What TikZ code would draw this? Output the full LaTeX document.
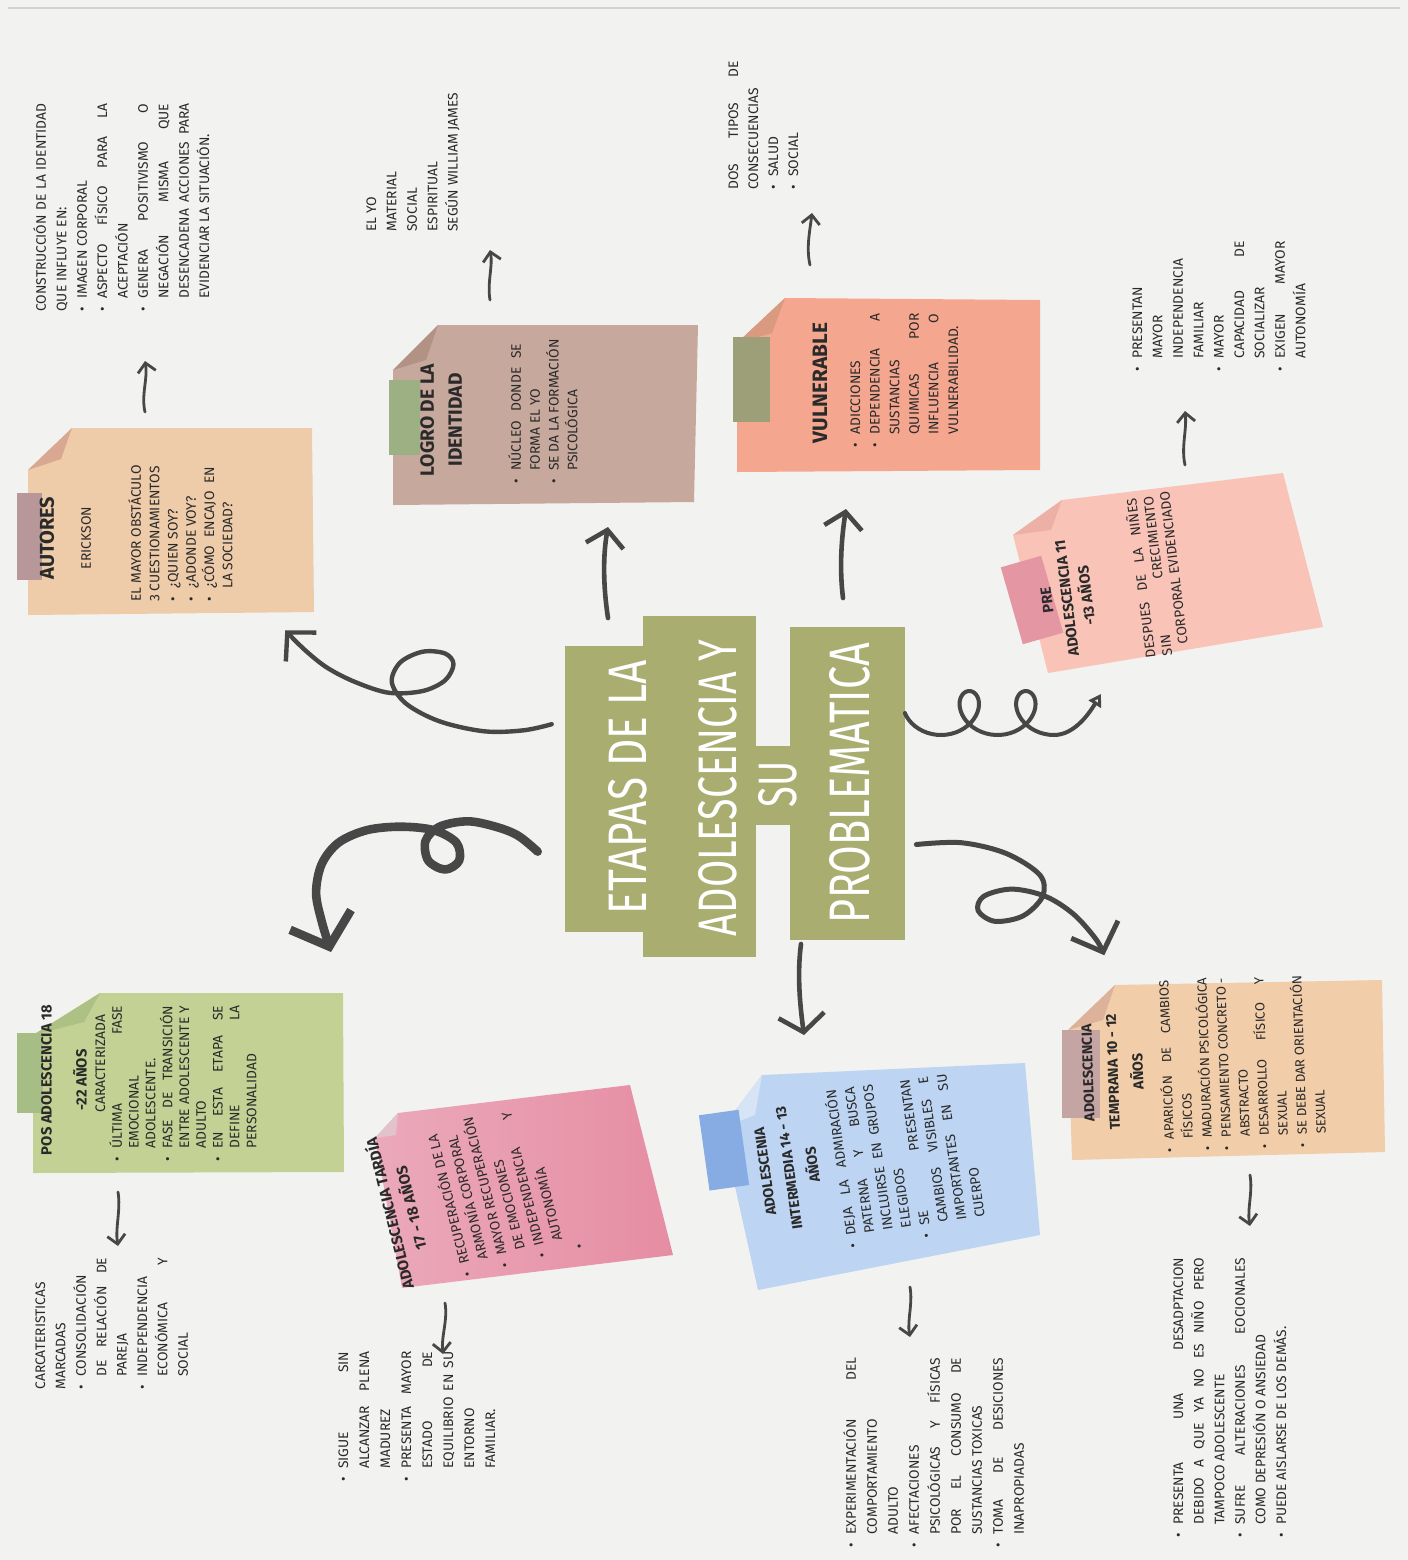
\documentclass[tikz,border=0pt]{standalone}
\usepackage{fontspec}
\usepackage{graphicx}
\setmainfont{Fira Sans}
\newfontfamily\ttlfont{Fira Sans}
\usetikzlibrary{arrows.meta}
\definecolor{bg}{HTML}{F2F2F0}
\definecolor{olv}{HTML}{A9AE70}
\definecolor{ink}{HTML}{474747}
\definecolor{txt}{HTML}{2A2A2A}
\definecolor{autC}{HTML}{EECBA9}\definecolor{autF}{HTML}{D9A893}\definecolor{autT}{HTML}{B89799}
\definecolor{logC}{HTML}{C7A89D}\definecolor{logF}{HTML}{B39286}\definecolor{logT}{HTML}{9DB083}
\definecolor{vulC}{HTML}{F4A68F}\definecolor{vulF}{HTML}{D99A80}\definecolor{vulT}{HTML}{9C9F78}
\definecolor{preC}{HTML}{F9C3B7}\definecolor{preF}{HTML}{EDB0A7}\definecolor{preT}{HTML}{E596A3}
\definecolor{posC}{HTML}{C3D195}\definecolor{posF}{HTML}{AEC184}\definecolor{posT}{HTML}{A7BD86}
\definecolor{tarA}{HTML}{EBA9BB}\definecolor{tarB}{HTML}{E68DA2}\definecolor{tarF}{HTML}{E2C3CB}
\definecolor{intC}{HTML}{BDD5F2}\definecolor{intF}{HTML}{D6E4F6}\definecolor{intT}{HTML}{86ACE3}
\definecolor{temC}{HTML}{F1CDA9}\definecolor{temF}{HTML}{DDB29A}\definecolor{temT}{HTML}{C5A4A4}
\newlength\bw \newlength\bi \setlength\bi{6.5pt}
\newcommand\lnJ[1]{\makebox[\bw][s]{#1}}
\newcommand\lnB[1]{\makebox[\bi][l]{\textbullet}#1}
\newcommand\lnBJ[1]{\makebox[\bi][l]{\textbullet}\makebox[\dimexpr\bw-\bi\relax][s]{#1}}
\newcommand\lnI[1]{\hspace*{\bi}#1}
\newcommand\lnIJ[1]{\hspace*{\bi}\makebox[\dimexpr\bw-\bi\relax][s]{#1}}
\newcommand\bodyf[1]{\fontsize{6.9}{#1}\selectfont}
\newcommand\hdf[2]{\bfseries\fontsize{#1}{#2}\selectfont}
\tikzset{
  bw/.code={\global\bw=#1\relax},
  blk/.style={rotate=#1, anchor=north west, inner sep=0pt, align=left, text=txt},
  hd/.style={rotate=#1, inner sep=0pt, align=center, text=txt},
  conn/.style={draw=ink, line cap=round, line join=round},
  sarr/.style={draw=ink, line width=1.4pt, line cap=round, -{Straight Barb[length=4.5pt,width=9pt]}},
  ctr/.style={rotate=90, inner sep=0pt, text=white, font=\ttlfont},
}
\begin{document}
\begin{tikzpicture}[x=0.5pt,y=-0.5pt]
\useasboundingbox (0,0) rectangle (1408,1560);
\fill[bg] (0,0) rectangle (1408,1560);
\draw[line width=0.8pt, black!18] (8,8) -- (1400,8);

% ---------------- centre title
\fill[olv] (565,646) rectangle (655,932);
\fill[olv] (643,616) rectangle (756,957);
\fill[olv] (742,746) rectangle (801,825);
\fill[olv] (790,627) rectangle (905,940);
\node[ctr] (t1) at (628,787) {\resizebox{127pt}{19pt}{ETAPAS DE LA}};
\node[ctr] (t2) at (718,788) {\resizebox{148pt}{19pt}{ADOLESCENCIA Y}};
\node[ctr] (t3) at (778,784) {\resizebox{23pt}{19pt}{SU}};
\node[ctr] (t4) at (850,783) {\resizebox{140pt}{20pt}{PROBLEMATICA}};

% ---------------- AUTORES
\fill[autC] (28,470) -- (72,428) -- (312,428) -- (314,612) -- (28,615) -- cycle;
\fill[autF] (28,470) -- (72,428) -- (61,459) -- cycle;
\fill[autT] (17,493) rectangle (42,580);
\node[hd=90, font={\hdf{10}{12}}] (autH) at (47,538) {AUTORES};
\node[hd=90, font={\bodyf{9pt}}] (autE) at (86,538) {ERICKSON};
\node[blk=90, bw=67.5pt, font={\bodyf{9.15pt}}] (autB) at (128,602) {%
EL MAYOR OBSTÁCULO\\
3 CUESTIONAMIENTOS\\
\lnB{¿QUIEN SOY?}\\
\lnB{¿ADONDE VOY?}\\
\lnBJ{¿CÓMO ENCAJO EN}\\
\lnI{LA SOCIEDAD?}};
\node[blk=90, bw=104pt, font={\bodyf{10.2pt}}] (conB) at (33,312) {%
\lnJ{CONSTRUCCIÓN DE LA IDENTIDAD}\\
QUE INFLUYE EN:\\
\lnB{IMAGEN CORPORAL}\\
\lnBJ{ASPECTO FÍSICO PARA LA}\\
\lnI{ACEPTACIÓN}\\
\lnBJ{GENERA POSITIVISMO O}\\
\lnIJ{NEGACIÓN MISMA QUE}\\
\lnIJ{DESENCADENA ACCIONES PARA}\\
\lnI{EVIDENCIAR LA SITUACIÓN.}};
\coordinate (a1s) at (145,412); \coordinate (a1e) at (145,361);
\draw[sarr] (a1s) .. controls (141,395) and (148,378) .. (a1e);

% ---------------- LOGRO
\fill[logC] (393,370) -- (438,325) -- (698,325) -- (694,502) -- (393,505) -- cycle;
\fill[logF] (393,370) -- (438,325) -- (426,360) -- cycle;
\fill[logT] (389,380) rectangle (420,455);
\node[hd=90, font={\hdf{9.6}{14}}] (logH) at (441,420) {LOGRO DE LA\\IDENTIDAD};
\node[blk=90, bw=70pt, font={\bodyf{9.4pt}}] (logB) at (508,484) {%
\lnBJ{NÚCLEO DONDE SE}\\
\lnI{FORMA EL YO}\\
\lnB{SE DA LA FORMACIÓN}\\
\lnI{PSICOLÓGICA}};
\node[blk=90, font={\bodyf{10.2pt}}] (yoB) at (366,232) {%
EL YO\\ MATERIAL\\ SOCIAL\\ ESPIRITUAL\\ SEGÚN WILLIAM JAMES};
\coordinate (a2s) at (490,300); \coordinate (a2e) at (490,250);
\draw[sarr] (a2s) .. controls (487,283) and (493,266) .. (a2e);

% ---------------- VULNERABLE
\fill[vulC] (737,343) -- (785,298) -- (1040,300) -- (1040,470) -- (737,472) -- cycle;
\fill[vulF] (737,343) -- (785,298) -- (772,333) -- cycle;
\fill[vulT] (733,337) rectangle (770,422);
\node[hd=90, font={\hdf{10.4}{12}}] (vulH) at (820,383) {VULNERABLE};
\node[blk=90, bw=67pt, font={\bodyf{9.8pt}}] (vulB) at (850,448) {%
\lnB{ADICCIONES}\\
\lnBJ{DEPENDENCIA A}\\
\lnI{SUSTANCIAS}\\
\lnIJ{QUIMICAS POR}\\
\lnIJ{INFLUENCIA O}\\
\lnI{VULNERABILIDAD.}};
\node[blk=90, bw=64pt, font={\bodyf{10pt}}] (dosB) at (728,190) {%
\lnJ{DOS TIPOS DE}\\
CONSECUENCIAS\\
\lnB{SALUD}\\
\lnB{SOCIAL}};
\coordinate (a3s) at (810,265); \coordinate (a3e) at (812,213);
\draw[sarr] (a3s) .. controls (806,248) and (810,230) .. (a3e);

% ---------------- PRE ADOLESCENCIA
\fill[preC] (1013,535) -- (1062,500) -- (1283,473) -- (1323,627) -- (1048,673) -- cycle;
\fill[preF] (1013,535) -- (1062,500) -- (1051,530) -- cycle;
\fill[preT, rotate around={16:(1032,600)}] (1011,560) rectangle (1053,640);
\node[hd=97, font={\hdf{7.4}{10}}] (preH) at (1067,598) {PRE\\ADOLESCENCIA 11\\-13 AÑOS};
\node[blk=97, bw=80pt, font={\bodyf{8.4pt}}] (preB) at (1143,659) {%
\lnJ{DESPUES DE LA NIÑES}\\
\lnJ{SIN CRECIMIENTO}\\
\hspace*{5pt}CORPORAL EVIDENCIADO};
\node[blk=90, bw=65pt, font={\bodyf{10.2pt}}] (prsB) at (1132,372) {%
\lnB{PRESENTAN}\\
\lnI{MAYOR}\\
\lnI{INDEPENDENCIA}\\
\lnI{FAMILIAR}\\
\lnB{MAYOR}\\
\lnIJ{CAPACIDAD DE}\\
\lnI{SOCIALIZAR}\\
\lnBJ{EXIGEN MAYOR}\\
\lnI{AUTONOMÍA}};
\coordinate (a4s) at (1185,465); \coordinate (a4e) at (1185,411);
\draw[sarr] (a4s) .. controls (1181,447) and (1187,430) .. (a4e);

% ---------------- POS ADOLESCENCIA
\fill[posC] (33,1035) -- (100,993) -- (343,993) -- (344,1172) -- (33,1173) -- cycle;
\fill[posF] (33,1035) -- (100,993) -- (84,1022) -- cycle;
\fill[posT] (17,1033) rectangle (43,1113);
\node[hd=90, font={\hdf{7.4}{17.5}}] (posH) at (64,1080) {POS ADOLESCENCIA 18\\-22 AÑOS};
\node[blk=90, bw=78pt, font={\bodyf{8.4pt}}] (posB) at (95,1162) {%
\hspace*{24.5pt}CARACTERIZADA\\
\lnBJ{ÚLTIMA FASE}\\
\lnI{EMOCIONAL}\\
\lnI{ADOLESCENTE.}\\
\lnBJ{FASE DE TRANSICIÓN}\\
\lnIJ{ENTRE ADOLESCENTE Y}\\
\lnI{ADULTO}\\
\lnBJ{EN ESTA ETAPA SE}\\
\lnIJ{DEFINE LA}\\
\lnI{PERSONALIDAD}};
\node[blk=90, bw=66pt, font={\bodyf{10.2pt}}] (carB) at (35,1390) {%
CARCATERISTICAS\\
MARCADAS\\
\lnB{CONSOLIDACIÓN}\\
\lnIJ{DE RELACIÓN DE}\\
\lnI{PAREJA}\\
\lnB{INDEPENDENCIA}\\
\lnIJ{ECONÓMICA Y}\\
\lnI{SOCIAL}};
\coordinate (a5s) at (118,1192); \coordinate (a5e) at (118,1246);
\draw[sarr] (a5s) .. controls (121,1210) and (115,1228) .. (a5e);

% ---------------- ADOLESCENCIA TARDIA
\shade[left color=tarA, right color=tarB] (375,1138) -- (398,1113) -- (630,1085) -- (673,1255) -- (402,1288) -- cycle;
\fill[tarF] (375,1138) -- (398,1113) -- (396,1135) -- cycle;
\node[hd=104, font={\hdf{7.6}{11}}] (tarH) at (399,1211) {ADOLESCENCIA TARDÍA\\17 - 18 AÑOS};
\node[blk=104, bw=75pt, font={\bodyf{9.6pt}}] (tarB) at (460,1279) {%
\lnB{RECUPERACIÓN DE LA}\\
\lnI{ARMONÍA CORPORAL}\\
\lnB{MAYOR RECUPERACIÓN}\\
\lnI{DE EMOCIONES}\\
\lnBJ{INDEPENDENCIA Y}\\
\lnI{AUTONOMÍA}\\
\textbullet};
\node[blk=90, bw=65pt, font={\bodyf{10.5pt}}] (sigB) at (338,1482) {%
\lnBJ{SIGUE SIN}\\
\lnIJ{ALCANZAR PLENA}\\
\lnI{MADUREZ}\\
\lnBJ{PRESENTA MAYOR}\\
\lnIJ{ESTADO DE}\\
\lnIJ{EQUILIBRIO EN SU}\\
\lnI{ENTORNO}\\
\lnI{FAMILIAR.}};
\coordinate (a6s) at (445,1303); \coordinate (a6e) at (443,1354);
\draw[sarr] (a6s) .. controls (448,1320) and (441,1337) .. (a6e);

% ---------------- ADOLESCENCIA INTERMEDIA
\fill[intC] (722,1128) -- (762,1075) -- (1025,1063) -- (1040,1235) -- (758,1290) -- cycle;
\fill[intF] (722,1128) -- (762,1075) -- (755,1115) -- cycle;
\fill[intT, rotate around={8:(725,1150)}] (704,1112) rectangle (744,1188);
\node[hd=98, font={\hdf{7.2}{12}}] (intH) at (789,1168) {ADOLESCENIA\\INTERMEDIA 14 - 13\\AÑOS};
\node[blk=98, bw=80pt, font={\bodyf{9.3pt}}] (intB) at (845,1250) {%
\lnBJ{DEJA LA ADMIRACIÓN}\\
\lnIJ{PATERNA Y BUSCA}\\
\lnIJ{INCLUIRSE EN GRUPOS}\\
\lnI{ELEGIDOS}\\
\lnBJ{SE PRESENTAN}\\
\lnIJ{CAMBIOS VISIBLES E}\\
\lnIJ{IMPORTANTES EN SU}\\
\lnI{CUERPO}};
\node[blk=90, bw=95pt, font={\bodyf{10.5pt}}] (expB) at (843,1548) {%
\lnBJ{EXPERIMENTACIÓN DEL}\\
\lnI{COMPORTAMIENTO}\\
\lnI{ADULTO}\\
\lnB{AFECTACIONES}\\
\lnIJ{PSICOLÓGICAS Y FÍSICAS}\\
\lnIJ{POR EL CONSUMO DE}\\
\lnI{SUSTANCIAS TOXICAS}\\
\lnBJ{TOMA DE DESICIONES}\\
\lnI{INAPROPIADAS}};
\coordinate (a7s) at (910,1287); \coordinate (a7e) at (910,1337);
\draw[sarr] (a7s) .. controls (913,1304) and (907,1320) .. (a7e);

% ---------------- ADOLESCENCIA TEMPRANA
\fill[temC] (1068,1030) -- (1115,985) -- (1382,980) -- (1385,1152) -- (1072,1160) -- cycle;
\fill[temF] (1068,1030) -- (1115,985) -- (1103,1020) -- cycle;
\fill[temT] (1062,1030) rectangle (1100,1118);
\node[hd=92, font={\hdf{7.2}{12.5}}] (temH) at (1113,1072) {ADOLESCENCIA\\TEMPRANA 10 - 12\\AÑOS};
\node[blk=92, bw=86pt, font={\fontsize{6.6}{9.5pt}\selectfont}] (temB) at (1162,1153) {%
\lnBJ{APARICIÓN DE CAMBIOS}\\
\lnI{FÍSICOS}\\
\lnB{MADURACIÓN PSICOLÓGICA}\\
\lnBJ{PENSAMIENTO CONCRETO -}\\
\lnI{ABSTRACTO}\\
\lnBJ{DESARROLLO FÍSICO Y}\\
\lnI{SEXUAL}\\
\lnBJ{SE DEBE DAR ORIENTACIÓN}\\
\lnI{SEXUAL}};
\node[blk=90, bw=140pt, font={\bodyf{10.3pt}}] (preU) at (1173,1538) {%
\lnBJ{PRESENTA UNA DESADPTACION}\\
\lnIJ{DEBIDO A QUE YA NO ES NIÑO PERO}\\
\lnI{TAMPOCO ADOLESCENTE}\\
\lnBJ{SUFRE ALTERACIONES EOCIONALES}\\
\lnI{COMO DEPRESIÓN O ANSIEDAD}\\
\lnB{PUEDE AISLARSE DE LOS DEMÁS.}};
\coordinate (a8s) at (1250,1175); \coordinate (a8e) at (1250,1226);
\draw[sarr] (a8s) .. controls (1253,1192) and (1247,1209) .. (a8e);

% ---------------- main connectors
\coordinate (cLogS) at (608,618); \coordinate (cLogE) at (608,527);
\draw[conn, line width=2.3pt, -{Straight Barb[length=8pt,width=19pt]}] (cLogS) .. controls (603,585) and (603,555) .. (cLogE);
\coordinate (cVulS) at (843,598); \coordinate (cVulE) at (846,509);
\draw[conn, line width=2.3pt, -{Straight Barb[length=8pt,width=19pt]}] (cVulS) .. controls (839,565) and (842,535) .. (cVulE);
\coordinate (cIntS) at (801,944); \coordinate (cIntE) at (804,1035);
\draw[conn, line width=2.3pt, -{Straight Barb[length=8.5pt,width=23pt]}] (cIntS) .. controls (797,975) and (800,1005) .. (cIntE);
\coordinate (cAutS) at (551.7,724.2); \coordinate (cAutE) at (285.2,630.3);
\draw[conn, line width=2.2pt, -{Straight Barb[length=10pt,width=21pt]}] plot[smooth, tension=0.55] coordinates {(cAutS) (523.7,730.3) (484.4,731.3) (439.5,721.3) (405.9,703.5) (391.8,682.1) (400.3,662.4) (422.7,651.7) (445.1,653.5) (453.5,664.2) (445.1,680.3) (422.7,691.0) (389.0,692.8) (355.4,682.1) (327.3,667.8) (304.9,650.0) (cAutE)};
\coordinate (cPosS) at (537.7,851.6); \coordinate (cPosE) at (331,952);
\draw[conn, line width=4.3pt, -{Straight Barb[length=14pt,width=32pt]}] plot[smooth, tension=0.55] coordinates {(cPosS) (518,835.6) (495.6,826.7) (467.6,821.3) (439.5,826.7) (425.5,840.9) (428.3,860.6) (445.1,869.5) (459.2,860.6) (456.4,842.7) (433.9,830.2) (400.3,826.7) (366.6,830.2) (338.5,842.7) (321.7,864.1) (316.1,892.7) (321.7,921.3) (cPosE)};
\coordinate (cTemS) at (916.4,844.5); \coordinate (cTemE) at (1104.3,955.2);
\draw[conn, line width=2.5pt, -{Straight Barb[length=12pt,width=25pt]}] plot[smooth, tension=0.55] coordinates {(cTemS) (961.3,842.7) (1006.1,853.4) (1039.8,874.9) (1042.6,896.3) (1023,915.9) (994.9,921.3) (978.1,910.6) (983.7,896.3) (1011.7,889.1) (1045.4,896.3) (1073.5,914.1) (1095.9,939.1) (cTemE)};
\coordinate (cPreS) at (905,713); \coordinate (cPreE) at (1101,694);
\draw[conn, line width=2pt, -{Triangle[open,length=6pt,width=7pt]}] (cPreS) -- plot[domain=-1.5708:12.566, samples=90, variable=\t] ({941+9*\t+22*sin(\t r)},{713+22*cos(\t r)}) .. controls (1075,735) and (1090,712) .. (cPreE);
\end{tikzpicture}
\end{document}
